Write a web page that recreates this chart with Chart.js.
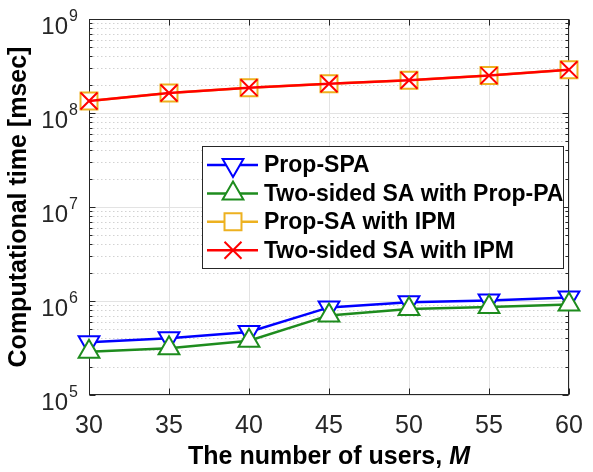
<!DOCTYPE html>
<html>
<head>
<meta charset="utf-8">
<script src="https://cdn.jsdelivr.net/npm/chart.js@4/dist/chart.umd.min.js"></script>
<style>
  html, body { margin: 0; padding: 0; background: #fff; }
  #wrap { width: 593px; height: 472px; position: relative; }
</style>
</head>
<body>
<div id="wrap"><canvas id="c"></canvas></div>
<script>
// Number of users M
const users = [30, 35, 40, 45, 50, 55, 60];

// Computational time [msec] per scheme
const propSPA        = [3.65e5, 4.02e5, 4.68e5, 8.55e5, 9.67e5, 1.01e6, 1.09e6];
const twoSidedPropPA = [2.89e5, 3.15e5, 3.78e5, 7.03e5, 8.22e5, 8.63e5, 9.20e5];
const propSAIPM      = [1.34e8, 1.63e8, 1.86e8, 2.05e8, 2.23e8, 2.50e8, 2.89e8];
const twoSidedIPM    = [1.34e8, 1.63e8, 1.86e8, 2.05e8, 2.23e8, 2.50e8, 2.89e8];

const seriesNames = ['Prop-SPA', 'Two-sided SA with Prop-PA', 'Prop-SA with IPM', 'Two-sided SA with IPM'];

// Axis ticks
const xTicks = [30, 35, 40, 45, 50, 55, 60];
const yExponents = [5, 6, 7, 8, 9];

const FONT = "'Liberation Sans', Arial, Helvetica, sans-serif";
const AXIS = '#262626';

const pts = vals => users.map((u, i) => ({ x: u, y: vals[i] }));

function series(label, vals, color, style, rot, order) {
  return {
    label, data: pts(vals), order,
    borderColor: color, backgroundColor: '#ffffff',
    borderWidth: 2.5,
    pointStyle: style, pointRotation: rot, pointRadius: 12,
    pointBorderColor: color, pointBackgroundColor: '#ffffff',
    pointBorderWidth: 2, pointHoverRadius: 12,
    clip: false, tension: 0
  };
}

const datasets = [
  series(seriesNames[0], propSPA, '#0000FF', 'triangle', 180, 3),
  series(seriesNames[1], twoSidedPropPA, '#1E8C1E', 'triangle', 0, 2),
  series(seriesNames[2], propSAIPM, '#EDB120', 'rect', 0, 1),
  series(seriesNames[3], twoSidedIPM, '#FF0000', 'crossRot', 0, 0)
];

// Grid, box, inward ticks, y labels with exponents, axis titles
const frame = {
  id: 'frame',
  beforeDatasetsDraw(chart) {
    const { ctx, chartArea: a, scales: { x, y } } = chart;
    ctx.save();
    ctx.lineWidth = 1;
    // minor y grid (dotted)
    ctx.strokeStyle = '#d2d2d2';
    ctx.setLineDash([1.5, 2.5]);
    for (let e = yExponents[0]; e < yExponents[yExponents.length - 1]; e++) {
      for (let k = 2; k <= 9; k++) {
        const py = Math.round(y.getPixelForValue(k * Math.pow(10, e))) + 0.5;
        ctx.beginPath(); ctx.moveTo(a.left, py); ctx.lineTo(a.right, py); ctx.stroke();
      }
    }
    ctx.setLineDash([]);
    // major grid
    ctx.strokeStyle = '#e3e3e3';
    yExponents.forEach(e => {
      const py = Math.round(y.getPixelForValue(Math.pow(10, e))) + 0.5;
      ctx.beginPath(); ctx.moveTo(a.left, py); ctx.lineTo(a.right, py); ctx.stroke();
    });
    xTicks.forEach(v => {
      const px = Math.round(x.getPixelForValue(v)) + 0.5;
      ctx.beginPath(); ctx.moveTo(px, a.top); ctx.lineTo(px, a.bottom); ctx.stroke();
    });
    // box
    ctx.strokeStyle = AXIS;
    const L = Math.round(a.left) + 0.5, R = Math.round(a.right) - 0.5;
    const T = Math.round(a.top) + 0.5, B = Math.round(a.bottom) - 0.5;
    ctx.strokeRect(L, T, R - L, B - T);
    // inward ticks
    ctx.beginPath();
    xTicks.forEach(v => {
      const px = Math.round(x.getPixelForValue(v)) + 0.5;
      ctx.moveTo(px, B); ctx.lineTo(px, B - 6);
      ctx.moveTo(px, T); ctx.lineTo(px, T + 6);
    });
    for (let e = yExponents[0]; e <= yExponents[yExponents.length - 1]; e++) {
      const py0 = Math.round(y.getPixelForValue(Math.pow(10, e))) + 0.5;
      ctx.moveTo(L, py0); ctx.lineTo(L + 6, py0);
      ctx.moveTo(R, py0); ctx.lineTo(R - 6, py0);
      if (e === yExponents[yExponents.length - 1]) break;
      for (let k = 2; k <= 9; k++) {
        const py = Math.round(y.getPixelForValue(k * Math.pow(10, e))) + 0.5;
        ctx.moveTo(L, py); ctx.lineTo(L + 3, py);
        ctx.moveTo(R, py); ctx.lineTo(R - 3, py);
      }
    }
    ctx.stroke();
    // y tick labels 10^n
    ctx.fillStyle = AXIS;
    ctx.textBaseline = 'alphabetic';
    yExponents.forEach(e => {
      const py = y.getPixelForValue(Math.pow(10, e));
      ctx.font = '24px ' + FONT;
      ctx.textAlign = 'right';
      ctx.fillText('10', 68, py + 15);
      ctx.font = '16px ' + FONT;
      ctx.textAlign = 'left';
      ctx.fillText(String(e), 69, py + 2);
    });
    // y title
    ctx.save();
    ctx.translate(19, (a.top + a.bottom) / 2);
    ctx.rotate(-Math.PI / 2);
    ctx.font = 'bold 25px ' + FONT;
    ctx.textAlign = 'center';
    ctx.textBaseline = 'middle';
    ctx.fillStyle = '#000';
    ctx.fillText('Computational time [msec]', 0, 0);
    ctx.restore();
    // x title with italic symbol
    const t1 = 'The number of users, ', t2 = 'M';
    ctx.font = 'bold 25px ' + FONT;
    const w1 = ctx.measureText(t1).width;
    ctx.font = 'italic bold 25px ' + FONT;
    const w2 = ctx.measureText(t2).width;
    const cx = (a.left + a.right) / 2;
    const x0 = cx - (w1 + w2) / 2;
    ctx.fillStyle = '#000';
    ctx.textAlign = 'left';
    ctx.textBaseline = 'middle';
    ctx.font = 'bold 25px ' + FONT;
    ctx.fillText(t1, x0, 457);
    ctx.font = 'italic bold 25px ' + FONT;
    ctx.fillText(t2, x0 + w1, 457);
    ctx.restore();
  },
  afterDatasetsDraw(chart) {
    const { ctx } = chart;
    ctx.save();
    // legend box
    const bx = 202, by = 146, bw = 361, bh = 122;
    ctx.fillStyle = '#ffffff';
    ctx.fillRect(bx, by, bw, bh);
    ctx.strokeStyle = AXIS;
    ctx.lineWidth = 1;
    ctx.strokeRect(bx + 0.5, by + 0.5, bw, bh);
    const draw = Chart.helpers && Chart.helpers.drawPoint;
    chart.data.datasets.forEach((ds, i) => {
      const ry = 165 + i * 28.4;
      ctx.strokeStyle = ds.borderColor;
      ctx.lineWidth = ds.borderWidth;
      ctx.beginPath(); ctx.moveTo(207, ry); ctx.lineTo(258, ry); ctx.stroke();
      ctx.lineWidth = ds.pointBorderWidth;
      ctx.fillStyle = ds.pointBackgroundColor;
      ctx.strokeStyle = ds.pointBorderColor;
      if (draw) {
        draw(ctx, { pointStyle: ds.pointStyle, rotation: ds.pointRotation, radius: ds.pointRadius, borderWidth: ds.pointBorderWidth }, 233, ry);
      }
      ctx.fillStyle = '#000';
      ctx.font = 'bold 23px ' + FONT;
      ctx.textAlign = 'left';
      ctx.textBaseline = 'middle';
      ctx.fillText(ds.label, 264, ry + 1);
    });
    ctx.restore();
  }
};

new Chart(document.getElementById('c'), {
  type: 'line',
  data: { datasets },
  options: {
    responsive: true,
    maintainAspectRatio: false,
    animation: false,
    devicePixelRatio: 1,
    layout: { padding: { top: 19, right: 24, left: 0, bottom: 0 } },
    plugins: { legend: { display: false }, tooltip: { enabled: false } },
    events: [],
    scales: {
      x: {
        type: 'linear', min: 30, max: 60,
        afterBuildTicks: s => { s.ticks = xTicks.map(v => ({ value: v })); },
        ticks: { font: { family: FONT, size: 25 }, color: AXIS, padding: 8, maxRotation: 0, autoSkip: false },
        grid: { display: false },
        border: { display: false },
        afterFit: s => { s.height = 77; }
      },
      y: {
        type: 'logarithmic', min: 1e5, max: 1e9,
        ticks: { display: false },
        grid: { display: false },
        border: { display: false },
        afterFit: s => { s.width = 89; }
      }
    }
  },
  plugins: [frame]
});
</script>
</body>
</html>
